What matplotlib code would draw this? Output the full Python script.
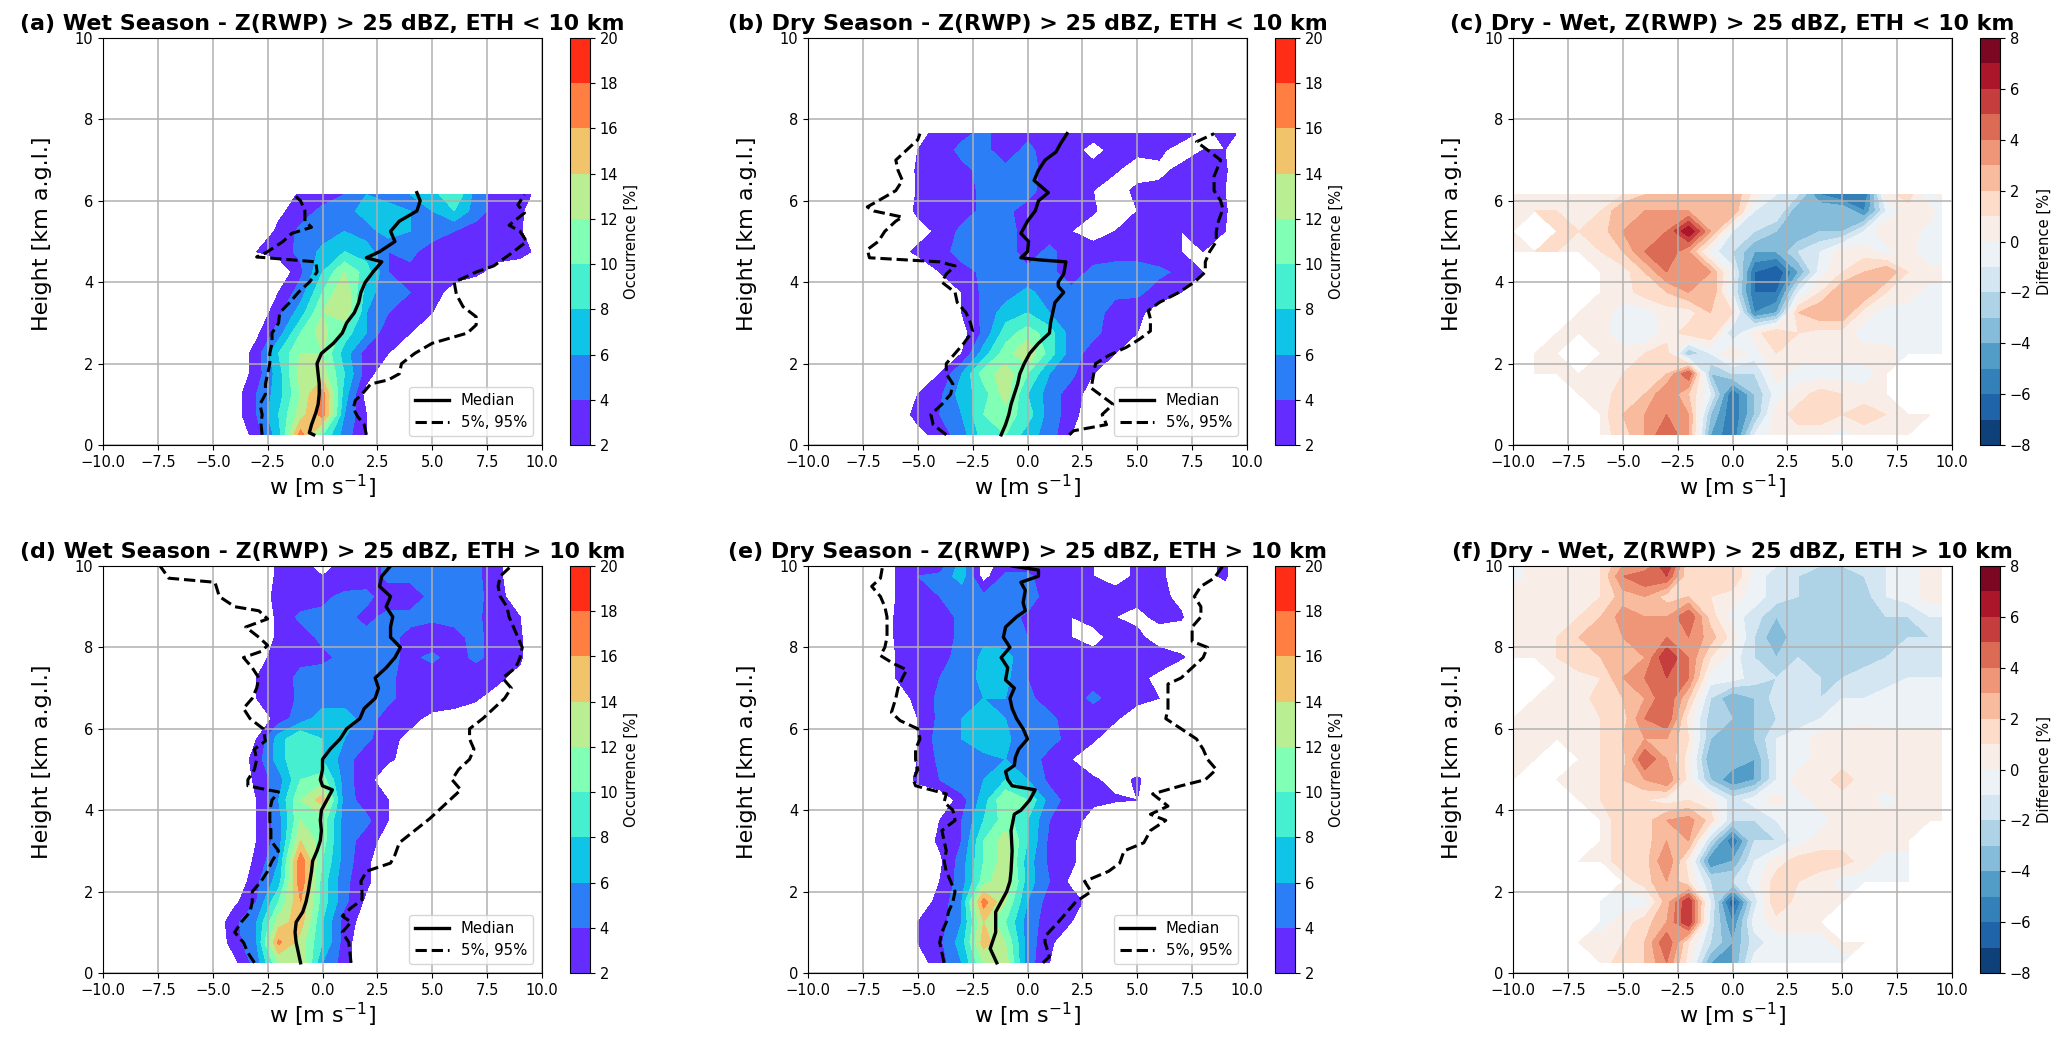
import matplotlib
matplotlib.use('Agg')
import matplotlib.pyplot as plt
import numpy as np

n = np.nan

# bin centres
w_bins = [-10, -9, -8, -7, -6, -5, -4, -3, -2, -1, 0, 1, 2, 3, 4, 5, 6, 7, 8, 9, 9.5]
h_low = [0.25, 0.75, 1.25, 1.75, 2.25, 2.75, 3.25, 3.75, 4.25, 4.75, 5.25, 5.75, 6.15]
h_mid = [0.25, 0.75, 1.25, 1.75, 2.25, 2.75, 3.25, 3.75, 4.25, 4.75, 5.25, 5.75, 6.25, 6.75, 7.25, 7.65]
h_full = [0.25, 0.75, 1.25, 1.75, 2.25, 2.75, 3.25, 3.75, 4.25, 4.75, 5.25, 5.75, 6.25, 6.75, 7.25, 7.75,
          8.25, 8.75, 9.25, 9.75, 10]

occ_a = [
    [0, 0, 0, 0, 0, 0, 0, 3, 7, 17, 10, 5, 2, 0, 0, 0, 0, 0, 0, 0, 0],
    [0, 0, 0, 0, 0, 0, 1, 4, 8, 13, 17, 6, 2, 0, 0, 0, 0, 0, 0, 0, 0],
    [0, 0, 0, 0, 0, 0, 1, 4, 7, 12, 17, 7, 1, 0, 0, 0, 0, 0, 0, 0, 0],
    [0, 0, 0, 0, 0, 0, 0, 3, 7, 13, 13, 8, 3, 0, 0, 0, 0, 0, 0, 0, 0],
    [0, 0, 0, 0, 0, 0, 0, 3, 8, 12, 12, 7, 3, 2, 0, 0, 0, 0, 0, 0, 0],
    [0, 0, 0, 0, 0, 0, 0, 1.5, 5, 10, 13, 9, 6, 2.5, 2, 0, 0, 0, 0, 0, 0],
    [0, 0, 0, 0, 0, 0, 0, 0, 3.5, 7, 12, 14, 6, 4, 2.5, 2, 0, 0, 0, 0, 0],
    [0, 0, 0, 0, 0, 0, 0, 0, 2, 5, 10, 14, 7, 4.5, 4, 3, 1, 0, 0, 0, 0],
    [0, 0, 0, 0, 0, 0, 0, 0, 0, 3.5, 8, 12, 9, 4, 3.5, 3, 3, 2.5, 1, 0, 0],
    [0, 0, 0, 0, 0, 0, 0, 2, 3, 4.5, 6.5, 8, 7, 4, 4.5, 3, 2.5, 2.5, 3, 3, 2],
    [0, 0, 0, 0, 0, 0, 0, 0, 2.5, 4.5, 5, 6, 5, 7, 6, 5, 4, 3, 2, 2.5, 0],
    [0, 0, 0, 0, 0, 0, 0, 0, 1.5, 3, 4.5, 5, 7, 7, 6, 6, 8, 5, 3, 2.5, 1],
    [0, 0, 0, 0, 0, 0, 0, 0, 0, 2.5, 3, 4, 6, 5, 6, 7, 10, 5, 3, 3, 2],
]

occ_b = [
    [0, 0, 0, 0, 0, 1, 3, 5, 9, 10, 7, 5, 2, 0, 0, 0, 0, 0, 0, 0, 0],
    [0, 0, 0, 0, 0, 3, 4, 6, 10, 11, 9, 5, 3, 0, 0, 0, 0, 0, 0, 0, 0],
    [0, 0, 0, 0, 0, 2, 3.5, 7, 9, 13, 8, 5, 3, 1, 0, 0, 0, 0, 0, 0, 0],
    [0, 0, 0, 0, 0, 0, 2, 6, 11, 13, 10, 6, 4.5, 2, 0, 0, 0, 0, 0, 0, 0],
    [0, 0, 0, 0, 0, 0, 0, 2, 7, 11, 14, 9, 5, 3, 2, 0, 0, 0, 0, 0, 0],
    [0, 0, 0, 0, 0, 0, 0, 1, 4.5, 9, 11, 9, 5, 4.5, 3, 2, 0, 0, 0, 0, 0],
    [0, 0, 0, 0, 0, 0, 0, 2, 4.5, 7, 8, 6, 4.5, 5, 3, 2.5, 1, 0, 0, 0, 0],
    [0, 0, 0, 0, 0, 0, 0, 2, 4.5, 5, 6.5, 5, 4.5, 5, 4.5, 4.5, 3, 2, 0, 0, 0],
    [0, 0, 0, 0, 0, 0, 2, 3, 4.5, 4.5, 4.5, 4.5, 3, 4.5, 5, 5, 4.5, 3.5, 2, 0, 0],
    [0, 0, 0, 0, 1, 2.5, 3, 5, 5, 5, 3, 4.5, 3, 3, 3, 3, 2.5, 2, 2, 0, 0],
    [0, 0, 0, 0, 2, 1, 2.5, 4.5, 6, 5, 3, 3, 2, 1, 2, 2.5, 2.5, 2, 2.5, 2, 0],
    [0, 0, 0, 0, 0, 2.5, 3, 3, 4.5, 4.5, 3, 2.5, 2.5, 2.2, 1, 2, 2.5, 2.5, 2.5, 2.5, 0],
    [0, 0, 0, 0, 0, 2.2, 2.5, 3, 4.5, 5, 5, 2.5, 3, 2, 1, 2.5, 2.5, 2.5, 2.5, 2, 0],
    [0, 0, 0, 0, 0, 2.3, 3, 3.5, 4.5, 4.5, 5, 3, 2.5, 2.5, 2.2, 1, 1.5, 2.5, 2.5, 2.5, 0],
    [0, 0, 0, 0, 0, 2, 3, 4.5, 4.5, 3, 4.5, 3, 2.5, 1.5, 2.5, 2.5, 2.5, 1, 2, 2, 0],
    [0, 0, 0, 0, 0, 1, 3, 3.5, 4.5, 3, 3.5, 3, 3, 2.5, 2.5, 2.5, 3, 3, 1.5, 2.5, 2],
]

diff_c = [
    [n, n, n, n, .5, 1.5, 3, 5, 3, -4, -6, -1, .5, .5, .5, -.5, .5, .5, .5, n, n],
    [n, n, n, n, .5, 2, 3, 4, 3, -3, -6, -3, .5, 1.5, 1.5, 1, 1.5, 1, .5, .5, .5],
    [n, n, n, .5, .5, 1.5, 2, 4, 2, -1, -6, -3, -.5, .5, 1.5, 1, .5, .5, n, n, n],
    [n, .5, .5, .5, .5, 1, 1.5, 2, 5, -3, -2, -2, .5, -.5, -.5, -.5, -.5, .5, n, n, n],
    [n, .5, .5, n, .5, .5, 1, 1.5, -3, -1, 1, -.5, 1, .5, .5, .5, .5, .5, -.5, -.5, -.5],
    [n, n, .5, .5, .5, -1, -1, .5, 1.5, 2, -2, .5, 2, 1, .5, .5, -.5, -.5, -.5, -.5, -.5],
    [n, n, n, .5, .5, -.5, -.5, .5, .5, 2, 1, -5, -4, 2, 3, 3, .5, -.5, -.5, -.5, -.5],
    [n, n, n, n, .5, .5, 1.5, 2, 3, 3, -1, -6, -6, -1, 1, 3, 3, 1, .5, -.5, -.5],
    [n, n, n, n, .5, .5, 2, 4, 4, 3, -.5, -6, -7, -4, -.5, 1, 2, 3, 1, .5, .5],
    [1, 1, 1, 1, 1, 2, 4, 5, 3, -.5, -2, -4, -4, -2, -1, .5, .5, -.5, .5, -1, -1],
    [.5, n, 1.5, 1, 1.5, 3, 4, 4, 7, 3, -1, -2, -3, -4, -3, -3, -1, 1, .5, -.5, -.5],
    [.5, 1, 1, 1, 1, 3, 3, 3, 3, 3, 3, -1, -1, -4, -3, -3, -5, -1, .5, .5, -.5],
    [.5, .5, .5, .5, 1, 1, 2, 3, 2, 2, 3, .5, -1, -2, -5, -6, -6, .5, 1.5, -1, .5],
]

occ_d = [
    [0, 0, 0, 0, 0, 0, 1.5, 5, 12, 14, 6, 3, 0, 0, 0, 0, 0, 0, 0, 0, 0],
    [0, 0, 0, 0, 0, 0, 3, 6, 16.5, 13, 8, 3, 0, 0, 0, 0, 0, 0, 0, 0, 0],
    [0, 0, 0, 0, 0, 0, 3.5, 6, 13, 15, 8, 3, 1, 0, 0, 0, 0, 0, 0, 0, 0],
    [0, 0, 0, 0, 0, 0, 1.5, 4, 10, 16, 9, 4.5, 1.5, 0, 0, 0, 0, 0, 0, 0, 0],
    [0, 0, 0, 0, 0, 0, 0, 3.5, 7, 17.5, 9, 4.5, 2.5, 0, 0, 0, 0, 0, 0, 0, 0],
    [0, 0, 0, 0, 0, 0, 0, 2.5, 6, 17.5, 10, 5, 2.5, 0, 0, 0, 0, 0, 0, 0, 0],
    [0, 0, 0, 0, 0, 0, 0, 2, 5, 14, 11, 5, 3, 1, 0, 0, 0, 0, 0, 0, 0],
    [0, 0, 0, 0, 0, 0, 0, 2, 5, 12, 11, 5, 4.5, 2, 0, 0, 0, 0, 0, 0, 0],
    [0, 0, 0, 0, 0, 0, 0, 2, 6, 12, 15, 5, 3, 2, 0, 0, 0, 0, 0, 0, 0],
    [0, 0, 0, 0, 0, 0, 0, 2.5, 5, 10, 11, 5, 2.5, 1, 0, 0, 0, 0, 0, 0, 0],
    [0, 0, 0, 0, 0, 0, 0, 3, 7, 10, 8, 5, 2.5, 2.2, 1.5, 0, 0, 0, 0, 0, 0],
    [0, 0, 0, 0, 0, 0, 0, 2, 7, 10, 8, 6, 4.5, 2.5, 1.5, 1, 0, 0, 0, 0, 0],
    [0, 0, 0, 0, 0, 0, 0, 0, 3, 5, 7, 7, 5, 3, 2.5, 1.5, 1.5, 1, 0, 0, 0],
    [0, 0, 0, 0, 0, 0, 0, 2, 2.5, 4.5, 5, 5, 4.5, 4.5, 3, 3, 2.5, 2.2, 1, 0, 0],
    [0, 0, 0, 0, 0, 0, 0, 2, 3, 4.5, 5, 5, 4.5, 4.5, 3, 2.5, 2.5, 2.5, 2.5, 1, 0],
    [0, 0, 0, 0, 0, 0, 0, 1, 3, 3.5, 3.5, 4.5, 4.5, 4.5, 3.5, 4.5, 3, 4.5, 3, 2.5, 0],
    [0, 0, 0, 0, 0, 0, 0, 0, 2.5, 3, 4.5, 4.5, 4.5, 4.5, 3.5, 2.5, 3.5, 4.5, 3, 2.5, 0],
    [0, 0, 0, 0, 0, 0, 0, 0, 2.5, 4.5, 4.5, 4.5, 3.5, 4.5, 4.5, 4.5, 4.5, 4.5, 2.5, 2, 0],
    [0, 0, 0, 0, 0, 0, 0, 0, 3, 2.5, 3.5, 4.5, 4.5, 3, 3, 4.5, 5, 4.5, 3, 0, 0],
    [0, 0, 1, 2, 0, 0, 0, 0, 2.5, 2.5, 2, 2.5, 3, 4.5, 4.5, 4.5, 4.5, 4.5, 2.5, 0, 0],
    [0, 0, 1, 2, 0, 0, 0, 0, 2.5, 2.5, 1.5, 2.5, 3, 4.5, 4.5, 4.5, 4.5, 4.5, 2.5, 0, 0],
]

occ_e = [
    [0, 0, 0, 0, 0, 1, 3, 6, 12, 13, 5, 2, 0, 0, 0, 0, 0, 0, 0, 0, 0],
    [0, 0, 0, 0, 0, 2, 3.5, 7, 15, 12, 5, 2.5, 0, 0, 0, 0, 0, 0, 0, 0, 0],
    [0, 0, 0, 0, 0, 2, 3, 6, 14, 10, 5, 3, 2, 0, 0, 0, 0, 0, 0, 0, 0],
    [0, 0, 0, 0, 0, 1, 2.5, 6, 17, 12, 6, 3, 3, 1, 0, 0, 0, 0, 0, 0, 0],
    [0, 0, 0, 0, 0, 0, 2, 5, 11, 14, 7, 4, 1.5, 0, 0, 0, 0, 0, 0, 0, 0],
    [0, 0, 0, 0, 0, 0, 1.5, 5, 10, 13, 7, 3.5, 2.5, 0, 0, 0, 0, 0, 0, 0, 0],
    [0, 0, 0, 0, 0, 0, 2.5, 4, 10, 13, 8, 3.5, 2.5, 0, 0, 0, 0, 0, 0, 0, 0],
    [0, 0, 0, 0, 0, 0, 2, 4, 8, 11, 8, 4, 3, 1, 0, 0, 0, 0, 0, 0, 0],
    [0, 0, 0, 0, 0, 0, 0, 3, 7, 12, 10, 5, 3, 2.5, 2.2, 2, 0, 0, 0, 0, 0],
    [0, 0, 0, 0, 0, 2.5, 4, 6, 6, 8, 6, 3.5, 2.5, 2.2, 1.5, 2.2, 1, 0, 0, 0, 0],
    [0, 0, 0, 0, 0, 2, 4.5, 6, 5, 6, 5.5, 3, 2, 1, 1, 1, 0, 0, 0, 0, 0],
    [0, 0, 0, 0, 0, 2, 5, 6, 8, 6.5, 4.5, 5, 3, 2.2, 1, 0, 0, 0, 0, 0, 0],
    [0, 0, 0, 0, 0, 2, 4.5, 6, 7, 6, 4.5, 4.5, 3, 2.5, 2.2, 1, 0, 0, 0, 0, 0],
    [0, 0, 0, 0, 1, 2.5, 4.5, 5, 6, 6, 4.5, 3, 3, 4.5, 3, 2.5, 2, 0, 0, 0, 0],
    [0, 0, 0, 0, 2, 2.5, 4, 5, 6.5, 6.5, 4, 3, 2.5, 3, 2.5, 2.5, 1.5, 0, 0, 0, 0],
    [0, 0, 0, 0, 2, 2.5, 3.5, 4.5, 6.5, 7, 4, 2.5, 3, 2.5, 2.5, 2.5, 3, 2.2, 1, 0, 0],
    [0, 0, 0, 0, 2.2, 2.5, 3, 4.5, 5.5, 4.5, 4, 2.5, 2, 1.5, 2.5, 2.5, 1, 1, 0, 0, 0],
    [0, 0, 0, 0, 2.2, 3, 3, 4.5, 6, 5, 3.5, 2.5, 2, 2.5, 2, 1.5, 2.5, 2.2, 0, 0, 0],
    [0, 0, 0, 0, 2, 2.5, 4, 4.5, 4.5, 5, 5.5, 2.5, 2.2, 2.5, 2.5, 2.5, 2.5, 1.5, 0, 0, 0],
    [0, 0, 0, 1, 2, 4, 4.5, 7, 1, 4.5, 4.5, 2.5, 2.2, 2, 1.5, 2.2, 2.2, 1.5, 1, 2.5, 0],
    [0, 0, 0, 1, 2, 3, 3, 7, 1, 3, 3, 2.5, 2.2, 2, 1.5, 2.2, 2.2, 1.5, 1, 2.5, 0],
]

diff_f = [
    [n, n, n, n, .5, 1.5, 2, 4, .5, -4, -4, -.5, -.5, -.5, -.5, -.5, n, n, n, n, n],
    [n, n, n, .5, .5, 1, 2, 5, 1, -2, -4, -1.5, -.5, -.5, -.5, .5, .5, .5, n, n, n],
    [n, n, n, n, -.5, .5, 1.5, 3, 6, -1.5, -5, -.5, .5, .5, .5, n, n, n, n, n, n],
    [n, n, n, n, -.5, -.5, -.5, 2.5, 6, -1, -7, -1.5, 2, .5, .5, .5, n, n, n, n, n],
    [n, n, n, n, n, .5, 1.5, 3, 1, -2, -2, -.5, 1.5, 1, .5, -.5, -.5, -.5, -.5, n, n],
    [n, n, n, .5, .5, 1.5, 1.5, 4, .5, -5, -4, -1, .5, 1.5, 1.5, 1.5, .5, -.5, -.5, n, n],
    [n, n, n, n, .5, 1.5, 1.5, 3, 3, -2, -6, -2, -2, -.5, .5, .5, .5, .5, .5, n, n],
    [n, n, n, n, .5, 1.5, 1.5, 3, 3.5, 1.5, -2, -2, -1, -.5, -.5, .5, .5, .5, .5, .5, .5],
    [n, n, n, .5, 1, 1.5, 1, .5, 1, .5, -1.5, -.5, .5, -.5, .5, .5, .5, -.5, .5, .5, .5],
    [.5, n, .5, .5, 1, 2, 3, 4, .5, -3, -5, -4, -1, .5, .5, 1.5, .5, .5, 1, .5, 1],
    [.5, .5, n, .5, 1, 1.5, 5, 3, .5, -4, -3, -4, -1, -.5, .5, .5, .5, 1, 1, .5, .5],
    [.5, .5, .5, 1, 1, 2, 3, 3, 1, -3, -3, -3, -1, -.5, .5, .5, 1, .5, .5, .5, .5],
    [.5, .5, 1, 1, 1, 1.5, 4, 5, .5, -2.5, -3, -3, -2, -1.5, -1, -.5, -.5, -.5, -.5, -.5, -.5],
    [n, .5, .5, .5, 1.5, 2, 3, 5, 2, -2, -4, -3, -1.5, -1.5, -2, -1, -1, -.5, -.5, -.5, -.5],
    [n, n, .5, .5, 1, 3, 4, 5, 4, -.5, -.5, -1.5, -2, -1, -2, -2, -1.5, -1.5, -1, -1, -1],
    [.5, .5, 1, 2, 2, 3, 3, 6, 4, 1, -.5, -2, -3, -2, -2, -3, -2.5, -2, -1, -1, -1],
    [.5, .5, 1, 2, 3, 3, 4, 4, 4, 2.5, .5, -2, -4, -2, -3, -2, -2, -2, -2, -2, -1],
    [.5, .5, 1, 1, 2, 3.5, 3, 3, 5, 1.5, -.5, -1.5, -3, -2, -2, -2, -2, -2, -2, -1, -1],
    [.5, .5, .5, .5, 1, 2.5, 3, 1.5, 2, 1, .5, -.5, -1.5, -2, -2.5, -2.5, -2.5, -1, -.5, .5, .5],
    [-.5, .5, .5, .5, 1, 4, 5, 5, 1, 1.5, 2, -.5, -1.5, -2, -2, -3, -2, -1, -.5, .5, .5],
    [-.5, .5, .5, .5, 1, 3, 3, 6, 1, 1.5, 2, -.5, -1, -1.5, -2, -2, -1.5, -1, -.5, .5, .5],
]

# median and 5/95 % lines, height then w
a_med_h = [.25, .3, .5, .8, 1, 1.25, 1.5, 1.75, 2, 2.25, 2.5, 2.75, 3, 3.25, 3.5, 3.75, 4, 4.25, 4.5, 4.6, 4.75, 5, 5.25, 5.5, 5.75, 6, 6.2]
a_med_w = [-.4, -.6, -.5, -.3, -.2, -.15, -.15, -.2, -.25, -.05, .5, .9, 1.1, 1.45, 1.65, 1.75, 1.95, 2.3, 2.7, 2, 2.6, 3.3, 3.1, 3.5, 4.3, 4.45, 4.3]
a_p5_h = [.25, .5, .75, 1, 1.25, 1.5, 1.75, 2, 2.25, 2.5, 2.75, 3, 3.25, 3.5, 3.75, 4, 4.25, 4.5, 4.62, 4.75, 5, 5.2, 5.35, 5.5, 5.75, 6, 6.15]
a_p5_w = [-2.75, -2.8, -2.75, -2.85, -2.6, -2.6, -2.5, -2.4, -2.4, -2.3, -2.3, -2, -1.95, -1.5, -1.1, -.6, -.25, -.3, -3, -2.5, -1.8, -1.4, -.5, -.8, -.8, -1, -1.3]
a_p95_h = [.25, .5, .7, .9, 1.1, 1.25, 1.5, 1.6, 1.75, 2, 2.25, 2.5, 2.75, 2.95, 3.15, 3.4, 3.7, 4, 4.25, 4.4, 4.75, 5, 5.25, 5.4, 5.7, 5.9, 6.15]
a_p95_w = [2, 1.9, 1.6, 1.4, 1.5, 1.8, 2.2, 3, 3.5, 3.6, 4.2, 5, 6.6, 7, 7, 6.4, 6.1, 6, 7, 7.8, 8.7, 9.3, 9, 8.5, 9.2, 8.9, 9.2]

b_med_h = [.25, .5, .75, 1, 1.25, 1.5, 1.75, 2, 2.25, 2.5, 2.75, 3, 3.25, 3.5, 3.75, 3.9, 4, 4.2, 4.5, 4.55, 4.6, 4.75, 5, 5.2, 5.5, 5.75, 6, 6.2, 6.5, 6.75, 7, 7.2, 7.4, 7.65]
b_med_w = [-1.2, -1, -.85, -.75, -.6, -.45, -.35, -.15, .1, .5, 1, 1.05, 1.15, 1.25, 1.65, 1.4, 1.4, 1.65, 1.75, .5, -.3, 0, .05, -.3, 0, .35, .5, .95, .3, .5, .8, 1.3, 1.5, 1.8]
b_p5_h = [.25, .5, .75, 1, 1.25, 1.5, 1.75, 2, 2.25, 2.5, 2.8, 3, 3.25, 3.5, 3.75, 4, 4.2, 4.4, 4.5, 4.6, 4.8, 5, 5.25, 5.5, 5.6, 5.75, 5.85, 6, 6.25, 6.5, 6.75, 7, 7.25, 7.5, 7.65]
b_p5_w = [-3.7, -4.3, -4.4, -3.9, -3.5, -3.4, -3.7, -3.7, -3.3, -2.9, -2.5, -2.6, -2.8, -3.2, -3.3, -3.9, -3.7, -3.3, -4, -7.2, -7.3, -6.8, -6.5, -6, -5.7, -7, -7.3, -6.8, -6, -5.7, -5.9, -6, -5.5, -5, -4.9]
b_p95_h = [.25, .35, .5, .75, 1, 1.2, 1.4, 1.7, 2, 2.2, 2.4, 2.6, 2.8, 3.1, 3.3, 3.5, 3.75, 4, 4.25, 4.5, 4.75, 5, 5.25, 5.5, 5.8, 6, 6.25, 6.6, 7, 7.25, 7.45, 7.65]
b_p95_w = [1.9, 2.1, 3.6, 3.4, 3.9, 3.4, 2.9, 3, 3.1, 3.7, 4.5, 5.1, 5.6, 5.6, 5.5, 6, 6.9, 7.6, 8.1, 8.1, 8.3, 8.6, 8.6, 8.7, 8.9, 8.8, 8.5, 8.5, 8.8, 8.2, 7.7, 8.5]

d_med_h = [.25, .5, .75, 1, 1.25, 1.5, 1.75, 2, 2.5, 2.75, 3, 3.25, 3.5, 3.75, 4, 4.25, 4.5, 4.6, 4.75, 5, 5.25, 5.5, 5.75, 6, 6.25, 6.5, 6.75, 7, 7.25, 7.5, 7.75, 8, 8.25, 8.5, 8.75, 9, 9.25, 9.5, 9.75, 10]
d_med_w = [-1, -1.1, -1.2, -1.25, -1.2, -.9, -.75, -.65, -.5, -.45, -.25, -.1, -.05, -.1, -.05, .2, .45, 0, -.1, 0, 0, .35, .8, 1.1, 1.7, 1.9, 2.4, 2.55, 2.4, 2.9, 3.3, 3.55, 3.1, 3.1, 3.2, 2.9, 3.1, 2.6, 2.7, 3.1]
d_p5_h = [.25, .5, .75, 1, 1.25, 1.5, 1.75, 2, 2.25, 2.5, 2.75, 3, 3.25, 3.5, 3.75, 4, 4.25, 4.45, 4.5, 4.6, 4.75, 5, 5.25, 5.5, 5.7, 6, 6.25, 6.5, 6.75, 7, 7.25, 7.5, 7.75, 7.9, 8.05, 8.25, 8.5, 8.7, 8.9, 9, 9.25, 9.6, 9.7, 10]
d_p5_w = [-3.1, -3.4, -3.6, -4, -3.7, -3.3, -3.2, -3.2, -2.8, -2.5, -2.3, -2, -2.35, -2.35, -2.4, -2.4, -2.3, -2, -2.5, -3.4, -3.4, -3.1, -3, -3.1, -2.6, -2.7, -3.3, -3.6, -3.2, -3, -2.9, -3.2, -3.6, -2.8, -2.5, -2.9, -3.5, -2.5, -2.9, -4, -4.7, -4.9, -7, -7.4]
d_p95_h = [.25, .5, .75, 1, 1.25, 1.4, 1.6, 1.8, 2, 2.25, 2.5, 2.7, 2.9, 3.2, 3.5, 3.8, 4, 4.25, 4.5, 4.75, 5, 5.25, 5.5, 5.75, 6, 6.25, 6.5, 6.75, 7, 7.25, 7.5, 7.75, 8, 8.25, 8.5, 8.75, 9, 9.25, 9.5, 9.75, 10]
d_p95_w = [1.3, 1.25, 1.2, .9, 1.3, .9, 1.3, 1.8, 1.8, 1.75, 2, 3.1, 3.3, 3.5, 4.2, 4.9, 5.3, 5.8, 6.3, 5.9, 6.2, 6.7, 6.9, 6.7, 6.7, 7.3, 7.8, 8.3, 8.6, 8.2, 8.8, 9, 9.1, 8.9, 8.7, 8.5, 8.4, 8.1, 8, 8.1, 8.6]

e_med_h = [.25, .6, 1, 1.5, 1.75, 2, 2.25, 2.5, 3, 3.5, 3.9, 4, 4.25, 4.5, 4.6, 4.75, 4.95, 5.1, 5.3, 5.5, 5.75, 6, 6.25, 6.5, 6.75, 7, 7.2, 7.5, 7.75, 8, 8.25, 8.5, 8.75, 8.9, 9.1, 9.4, 9.6, 9.75, 9.9, 10]
e_med_w = [-1.4, -1.7, -1.45, -1.45, -1.2, -.95, -.8, -.75, -.7, -.75, -.6, -.3, .1, .35, -.7, -.9, -1, -.6, -.55, -.4, 0, -.2, -.5, -.7, -.8, -.6, -1, -.9, -1.2, -.8, -1.1, -1, -.5, -.1, -.2, -.1, -.3, .5, .5, -.7]
e_p5_h = [.25, .5, .75, 1, 1.25, 1.5, 1.75, 2, 2.25, 2.5, 2.75, 3, 3.25, 3.5, 3.75, 4, 4.2, 4.4, 4.6, 4.75, 5, 5.25, 5.5, 5.75, 6, 6.2, 6.4, 6.75, 7, 7.25, 7.45, 7.6, 7.8, 8, 8.25, 8.5, 8.75, 9, 9.25, 9.5, 9.7, 10]
e_p5_w = [-3.8, -3.9, -4, -3.9, -3.7, -3.6, -3.4, -3.3, -3.5, -3.7, -3.8, -3.7, -3.8, -3.9, -3.3, -3.4, -3.8, -3.7, -5.1, -5.2, -5, -5.1, -5.1, -4.9, -5, -5.8, -6.2, -6, -5.9, -5.7, -5.5, -6.1, -6.7, -6.5, -6.4, -6.4, -6.4, -6.5, -6.7, -7.1, -6.7, -6.6]
e_p95_h = [.25, .4, .75, .9, 1.25, 1.5, 1.75, 2, 2.25, 2.5, 2.7, 3, 3.2, 3.5, 3.75, 3.9, 4.1, 4.4, 4.6, 4.75, 5, 5.25, 5.5, 5.75, 6, 6.25, 6.5, 6.75, 7.1, 7.25, 7.5, 7.75, 8, 8.15, 8.5, 8.75, 9, 9.25, 9.5, 9.7, 10]
e_p95_w = [.7, 1, .8, .8, 1.4, 1.8, 2.2, 2.9, 2.6, 3.7, 4.2, 4.4, 5.3, 5.6, 6.3, 5.6, 6.4, 5.7, 7, 8.1, 8.6, 8.2, 8, 7.7, 7, 6.3, 6.4, 6.4, 6.4, 7, 7.5, 8, 8.2, 7.5, 7.5, 7.9, 7.9, 7.6, 7.9, 8.5, 8.9]

titles = ['(a) Wet Season - Z(RWP) > 25 dBZ, ETH < 10 km',
          '(b) Dry Season - Z(RWP) > 25 dBZ, ETH < 10 km',
          '(c) Dry - Wet, Z(RWP) > 25 dBZ, ETH < 10 km',
          '(d) Wet Season - Z(RWP) > 25 dBZ, ETH > 10 km',
          '(e) Dry Season - Z(RWP) > 25 dBZ, ETH > 10 km',
          '(f) Dry - Wet, Z(RWP) > 25 dBZ, ETH > 10 km']

W, H = 2067, 1039
fig = plt.figure(figsize=(W / 100, H / 100), dpi=100)


def px_axes(x0, x1, y0, y1):
    return fig.add_axes([x0 / W, 1 - y1 / H, (x1 - x0) / W, (y1 - y0) / H])


def panel(box, cbox, data, heights, title, diff=False, lines=None):
    ax = px_axes(*box)
    cax = px_axes(*cbox)
    z = np.array(data, dtype=float)
    if diff:
        cf = ax.contourf(w_bins, heights, np.ma.masked_invalid(z), levels=np.arange(-8, 9, 1), cmap='RdBu_r', vmin=-8, vmax=8)
        cb = fig.colorbar(cf, cax=cax, ticks=np.arange(-8, 9, 2))
        cb.set_label('Difference [%]', fontsize=10.6)
    else:
        cf = ax.contourf(w_bins, heights, z, levels=np.arange(2, 21, 2), cmap='rainbow', vmin=2, vmax=20)
        cb = fig.colorbar(cf, cax=cax, ticks=np.arange(2, 21, 2))
        cb.set_label('Occurrence [%]', fontsize=10.6)
    cb.ax.tick_params(labelsize=10.5)
    if lines is not None:
        med_h, med_w, p5_h, p5_w, p95_h, p95_w = lines
        ax.plot(med_w, med_h, color='k', lw=2.4, label='Median')
        ax.plot(p5_w, p5_h, color='k', lw=2.2, ls='--', label='5%, 95%')
        ax.plot(p95_w, p95_h, color='k', lw=2.2, ls='--')
        ax.legend(loc='lower right', fontsize=10.7, borderaxespad=0.6, handlelength=2.3)
    ax.set_xlim(-10, 10)
    ax.set_ylim(0, 10)
    ax.set_xticks(np.arange(-10, 10.1, 2.5))
    ax.set_yticks(np.arange(0, 11, 2))
    ax.tick_params(labelsize=10.5)
    ax.grid(True, color='#b0b0b0', lw=1.1)
    ax.set_xlabel('w [m s$^{-1}$]', fontsize=16, labelpad=2)
    ax.set_ylabel('Height [km a.g.l.]', fontsize=16)
    ax.yaxis.set_label_coords(-0.116, 0.52)
    ax.set_title(title, fontsize=15.9, fontweight='bold', pad=6)
    return ax


top = (38, 445)
bot = (566, 973)
panel((103, 542) + top, (570, 590) + top, occ_a, h_low, titles[0],
      lines=(a_med_h, a_med_w, a_p5_h, a_p5_w, a_p95_h, a_p95_w))
panel((808, 1247) + top, (1275, 1295) + top, occ_b, h_mid, titles[1],
      lines=(b_med_h, b_med_w, b_p5_h, b_p5_w, b_p95_h, b_p95_w))
panel((1513, 1952) + top, (1980, 2000) + top, diff_c, h_low, titles[2], diff=True)
panel((103, 542) + bot, (570, 590) + bot, occ_d, h_full, titles[3],
      lines=(d_med_h, d_med_w, d_p5_h, d_p5_w, d_p95_h, d_p95_w))
panel((808, 1247) + bot, (1275, 1295) + bot, occ_e, h_full, titles[4],
      lines=(e_med_h, e_med_w, e_p5_h, e_p5_w, e_p95_h, e_p95_w))
panel((1513, 1952) + bot, (1980, 2000) + bot, diff_f, h_full, titles[5], diff=True)

fig.savefig('out.png', dpi=100, facecolor='white')
